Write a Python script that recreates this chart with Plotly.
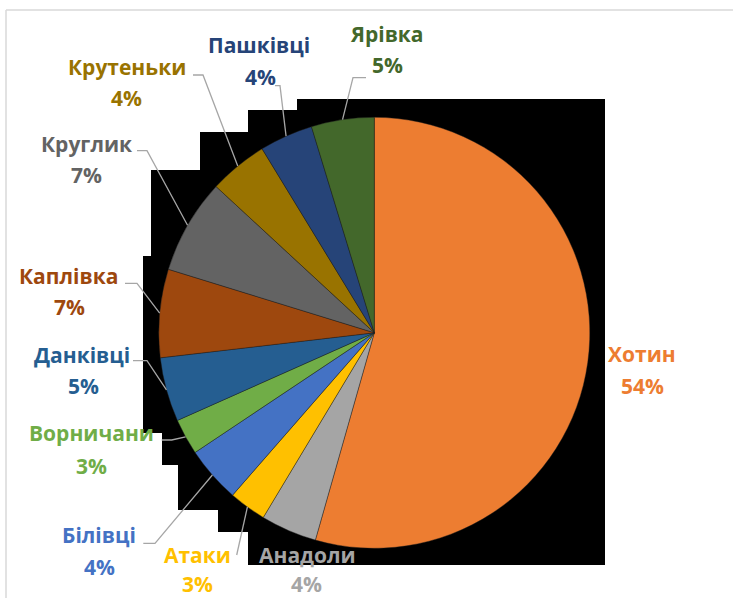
import math
import plotly.graph_objects as go

# ---------------- data ----------------
categories = ["Хотин", "Анадоли", "Атаки", "Білівці", "Ворничани", "Данківці",
              "Каплівка", "Круглик", "Крутеньки", "Пашківці", "Ярівка"]
values = [54.3, 4.2, 2.8, 4.2, 2.7, 4.8, 6.6, 7.1, 4.4, 4.0, 4.7]
colors = ["#ED7D31", "#A5A5A5", "#FFC000", "#4472C4", "#70AD47", "#255E91",
          "#9E480E", "#636363", "#997300", "#264478", "#43682B"]

# ---------------- layout (pixel geometry) ----------------
W, H = 733, 598
CX, CY, R = 374.3, 332.8, 215.5


def px(x):
    return x / W


def py(y):
    return 1 - y / H


# label centres: (name_x, name_y, pct_x, pct_y)
label_pos = {
    "Хотин": (642, 354, 642, 386),
    "Анадоли": (307, 555, 306, 584),
    "Атаки": (197, 555, 197, 584),
    "Білівці": (99, 535, 99, 567),
    "Ворничани": (91, 433, 91, 466),
    "Данківці": (82, 355, 83, 386),
    "Каплівка": (68, 276, 69, 307),
    "Круглик": (86, 144, 86, 175),
    "Крутеньки": (127, 67, 126, 98),
    "Пашківці": (259, 45, 260, 77),
    "Ярівка": (387, 34, 387, 65),
}
# leader lines: (end_x, end_y, elbow_x, elbow_y)
leader_pos = {
    "Ярівка": (366, 77.7, 353, 77.7),
    "Пашківці": (275, 85.7, 280, 85.7),
    "Крутеньки": (193, 75, 203, 75),
    "Круглик": (137, 150.7, 147, 150.7),
    "Каплівка": (125, 283.3, 137, 283.3),
    "Данківці": (133, 360.7, 147, 360.7),
    "Ворничани": (161.7, 440, 171.7, 440),
    "Білівці": (143.3, 543.3, 155, 543.3),
    "Атаки": (236.7, 555, 236.7, 555),
}

fig = go.Figure(go.Pie(
    labels=categories, values=values, sort=False, direction="clockwise",
    rotation=0,
    marker=dict(colors=colors, line=dict(color="rgba(30,30,30,0.7)", width=0.6)),
    textinfo="none", hoverinfo="label+percent", showlegend=False,
    domain=dict(x=[px(CX - R), px(CX + R)], y=[py(CY + R), py(CY - R)]),
))

shapes = []
# background artefact (black stepped region behind the pie)
black_pts = [(297, 99), (605, 99), (605, 565), (248, 565), (248, 532), (218, 532),
             (218, 510), (178, 510), (178, 465), (162, 465), (162, 433), (143, 433),
             (143, 256), (151, 256), (151, 170), (200, 170), (200, 132), (248, 132),
             (248, 110), (297, 110)]
path = "M " + " L ".join(f"{px(x)},{py(y)}" for x, y in black_pts) + " Z"
shapes.append(dict(type="path", xref="paper", yref="paper", path=path,
                   fillcolor="black", line=dict(width=0), layer="below"))
# chart-area border (top and left)
shapes.append(dict(type="line", xref="paper", yref="paper", x0=px(6), y0=py(10), x1=px(740), y1=py(10),
                   line=dict(color="#D9D9D9", width=1.5)))
shapes.append(dict(type="line", xref="paper", yref="paper", x0=px(6), y0=py(10), x1=px(6), y1=py(605),
                   line=dict(color="#D9D9D9", width=1.5)))

total = sum(values)
cum = 0.0
annotations = []
for cat, v, c in zip(categories, values, colors):
    mid = (cum + v / 2) / total * 2 * math.pi
    cum += v
    ex, ey = CX + R * math.sin(mid), CY - R * math.cos(mid)
    if cat in leader_pos:
        x0, y0, x1, y1 = leader_pos[cat]
        p = f"M {px(x0)},{py(y0)} L {px(x1)},{py(y1)} L {px(ex)},{py(ey)}"
        shapes.append(dict(type="path", xref="paper", yref="paper", path=p,
                           line=dict(color="#A6A6A6", width=1.3)))
    nx, ny, qx, qy = label_pos[cat]
    pct = f"{round(v / total * 100)}%"
    for text, x, y in ((cat, nx, ny), (pct, qx, qy)):
        annotations.append(dict(text=f"<b>{text}</b>", x=px(x), y=py(y), xref="paper", yref="paper",
                                xanchor="center", yanchor="middle", showarrow=False,
                                font=dict(family="Open Sans", size=21, color=c)))

fig.update_layout(
    width=W, height=H, margin=dict(l=0, r=0, t=0, b=0),
    paper_bgcolor="white", plot_bgcolor="white",
    shapes=shapes, annotations=annotations,
)

fig.write_html("out.html", config={"displayModeBar": False},
               post_script="document.body.style.margin='0';document.body.style.overflow='hidden';")
